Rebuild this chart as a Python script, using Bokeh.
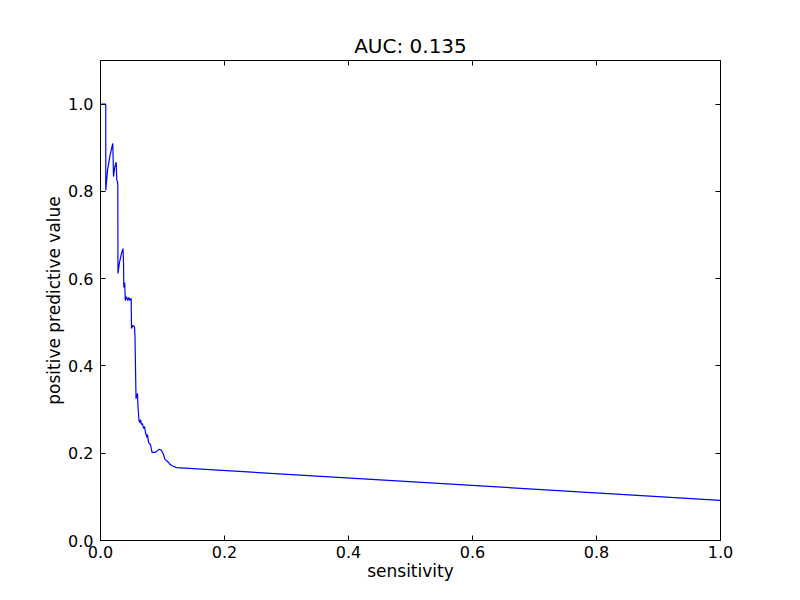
from bokeh.plotting import figure
from bokeh.models import LinearAxis, FixedTicker, Range1d, PrintfTickFormatter
from bokeh.embed import file_html
from bokeh.resources import INLINE

sensitivity = [0.0, 0.0085, 0.0085, 0.0113, 0.0153, 0.0198, 0.0210, 0.0232, 0.0253, 0.0263,
               0.0274, 0.0279, 0.0282, 0.0306, 0.0339, 0.0363, 0.0371, 0.0376, 0.0390, 0.0400,
               0.0419, 0.0440, 0.0456, 0.0476, 0.0495, 0.0500, 0.0524, 0.0548, 0.0556, 0.0573,
               0.0597, 0.0605, 0.0621, 0.0637, 0.0645, 0.0661, 0.0677, 0.0694, 0.0710, 0.0726,
               0.0750, 0.0758, 0.0774, 0.0806, 0.0831, 0.0887, 0.0919, 0.0952, 0.0984, 0.1016,
               0.1040, 0.1081, 0.1113, 0.1145, 0.1177, 0.1226, 1.0]
ppv = [1.0, 1.0, 0.802, 0.848, 0.882, 0.910, 0.834, 0.857, 0.867, 0.825,
       0.823, 0.813, 0.612, 0.637, 0.658, 0.669, 0.637, 0.580, 0.591, 0.550,
       0.559, 0.550, 0.557, 0.550, 0.555, 0.486, 0.493, 0.490, 0.470, 0.325,
       0.337, 0.305, 0.275, 0.270, 0.277, 0.266, 0.268, 0.257, 0.261, 0.247,
       0.236, 0.243, 0.225, 0.220, 0.202, 0.202, 0.206, 0.209, 0.206, 0.197,
       0.186, 0.181, 0.176, 0.172, 0.170, 0.167, 0.092]
x_ticks = [0.0, 0.2, 0.4, 0.6, 0.8, 1.0]
y_ticks = [0.0, 0.2, 0.4, 0.6, 0.8, 1.0]
title_text = "AUC: 0.135"

FONT = "DejaVu Sans"

p = figure(output_backend="svg", toolbar_location=None,
           frame_width=620, frame_height=480,
           x_range=Range1d(0, 1.0), y_range=Range1d(0, 1.1),
           x_axis_label="sensitivity", y_axis_label="positive predictive value",
           title=title_text)
p.min_border_left = 100
p.min_border_top = 60
p.min_border_right = 70
p.min_border_bottom = 50
p.background_fill_color = "white"
p.border_fill_color = "white"
p.outline_line_color = "black"
p.outline_line_width = 1
p.xgrid.visible = False
p.ygrid.visible = False

p.title.align = "center"
p.title.text_font = FONT
p.title.text_font_size = "20px"
p.title.text_font_style = "normal"
p.title.text_color = "black"
p.title.standoff = 6

p.line(sensitivity, ppv, line_color="#0000ff", line_width=1.2)

for ax, ticks in ((p.xaxis[0], x_ticks), (p.yaxis[0], y_ticks)):
    ax.ticker = FixedTicker(ticks=ticks)
    ax.formatter = PrintfTickFormatter(format="%.1f")
    ax.major_tick_in = 5
    ax.major_tick_out = 0
    ax.minor_tick_line_color = None
    ax.axis_line_color = "black"
    ax.major_tick_line_color = "black"
    ax.major_label_text_font = FONT
    ax.major_label_text_font_size = "16px"
    ax.major_label_text_color = "black"
    ax.axis_label_text_font = FONT
    ax.axis_label_text_font_size = "17px"
    ax.axis_label_text_font_style = "normal"
    ax.axis_label_text_color = "black"
p.xaxis[0].major_label_standoff = 5
p.xaxis[0].axis_label_standoff = 0
p.yaxis[0].major_label_standoff = 7
p.yaxis[0].axis_label_standoff = 1

top = LinearAxis(ticker=FixedTicker(ticks=x_ticks), major_label_text_font_size="0px",
                 major_tick_in=5, major_tick_out=0, minor_tick_line_color=None,
                 major_label_text_color=None)
right = LinearAxis(ticker=FixedTicker(ticks=y_ticks), major_label_text_font_size="0px",
                   major_tick_in=5, major_tick_out=0, minor_tick_line_color=None,
                   major_label_text_color=None)
top.major_label_standoff = 0
right.major_label_standoff = 0
p.add_layout(top, "above")
p.add_layout(right, "right")

open("out.html", "w").write(file_html(p, INLINE))
